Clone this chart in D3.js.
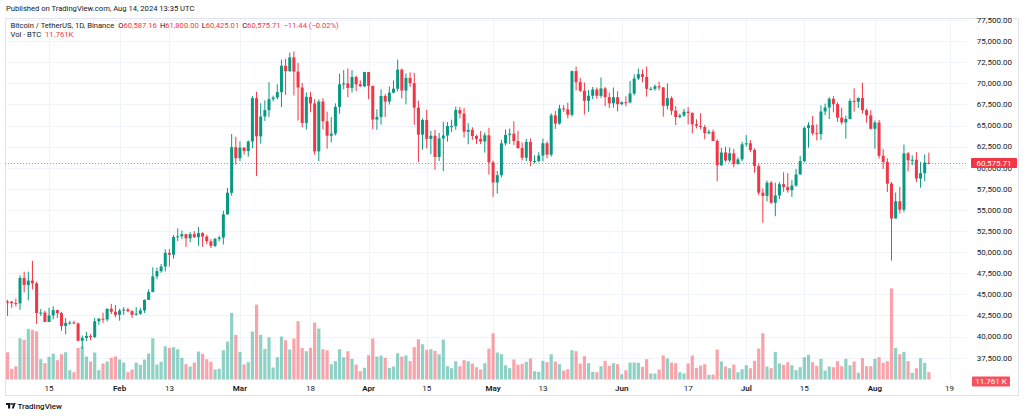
<!DOCTYPE html>
<html><head><meta charset="utf-8">
<script src="https://cdn.jsdelivr.net/npm/d3@7"></script>
<style>
body{margin:0;background:#fff}
svg{display:block}
text{font-family:Roboto,"Open Sans","DejaVu Sans",sans-serif}
</style>
</head><body>
<svg id="chart" width="1024" height="416"></svg>
<script>
// ---------- DATA (BTC/USDT daily, Binance) ----------
const firstDay = "2024-01-05";
const lastDay  = "2024-08-14";

const open = [
 44151,44145,43968,43929,46951,46110,46632,46314,42782,42847,41732,42511,43137,42776,41262,41618,41665,41545,39507,39845,40077,39934,41816,42120,42031,43300,42941,
 42580,43082,43200,43011,42582,42708,43098,44349,45288,47132,47751,48299,49917,49699,51795,51880,52124,51642,52137,51774,52258,51849,51288,50744,51568,51728,54476,57037,62432,
 61130,62387,61987,63113,68245,63724,66074,66823,68124,68313,68955,72078,71452,73072,71388,69499,65300,68393,67609,61937,67840,65501,63796,64037,67211,69880,69988,69455,70744,69892,69645,
 71333,69702,65709,66000,68500,67837,68896,69360,71620,69146,70631,70006,67116,63924,65661,63419,63793,61277,63470,63818,64940,64941,66837,66408,64276,64481,63755,63419,63113,63841,
 60636,58254,59123,62889,63891,64031,63161,62334,61187,63049,60792,60793,61448,62901,61552,66206,65235,67024,66915,66274,71446,70136,69122,67929,68526,69265,68518,69394,68366,67635,68354,
 67530,67760,67740,68798,70567,71082,70757,69342,69350,69648,69512,67332,68241,66756,66011,66191,66639,66490,65140,64960,64828,64096,64252,63180,60277,61806,60864,61706,60427,60986,
 62772,62900,62100,60197,57042,56662,58231,55857,56714,58051,57725,57339,57889,59204,60797,64724,65043,64087,63987,66660,67139,68165,67532,65936,65372,65777,67912,67813,68255,66819,66201,
 64620,65357,61415,60680,58116,53991,56034,55027,61710,60880,60945,58719,59354,60587.16
];
const high = [
 44357,44214,44496,47248,47695,47695,48969,46515,43257,43079,43400,43578,43198,42931,42195,41867,41870,41689,40129,40555,40300,42210,42200,42842,43305,43882,43745,
 43285,43488,43380,43119,43494,43399,44396,45614,48200,48170,48592,50334,50368,52043,52816,52572,52191,52377,52488,52985,52366,52065,51548,51698,51958,54910,57588,64000,63676,
 63114,62433,63231,68499,69000,67637,67985,70136,68541,69887,72800,72890,73650,73777,72419,70043,68904,68956,68124,68100,68240,66649,65999,67622,71150,71561,71769,71552,70913,70355,71366,
 71342,69708,66914,69291,68725,69629,70326,72797,71758,71172,71305,71227,67931,65840,66867,64365,64499,64117,65450,65419,65695,67233,67199,67075,65275,64792,63923,64360,64174,64734,
 60841,59625,63320,64529,64646,65500,64390,62999,63421,63469,61490,61850,63450,63118,66444,66752,67451,67400,67700,71515,71979,70623,70096,69220,69562,69508,70687,69560,68900,69500,69044,
 67865,68460,70288,71063,71735,71625,71997,69582,69860,70195,69563,69999,68449,67294,66402,66983,67188,66566,65738,66482,65066,64525,64523,63369,62350,62488,62390,62225,61224,63059,
 63861,63289,62292,60498,57546,58475,58426,58236,58296,59470,59359,58526,59850,61420,64900,65388,66128,65133,67386,67598,68366,68474,67750,67102,66175,68200,69399,68318,70079,66987,66810,
 65593,65659,62198,61117,58305,57059,57737,62745,61858,61464,61858,60680,61572,61800
];
const low = [
 42450,43397,43577,43175,45245,44300,45606,41500,42436,41720,41718,42050,42200,40683,40280,41395,41500,39431,38555,39484,39565,39825,41394,41620,41804,42683,42276,
 41884,42567,42880,42222,42500,42574,42788,44331,45242,46800,47557,47710,48300,49225,51314,51566,50625,51163,51677,50760,50625,50940,50500,50585,51279,50901,54450,56691,60364,
 60777,61561,61321,62300,59005,62848,65551,66000,67861,68094,67194,68620,71333,68555,65600,64780,64533,66566,61555,60775,64529,62260,63000,63825,66385,69280,68359,68903,69076,69601,69562,
 68110,64586,64493,65086,66011,67491,68824,69043,68210,67518,69567,65086,60660,62134,62274,61600,59768,60803,59600,63090,64237,64500,65864,63589,62783,63298,62824,62793,61795,59191,
 56552,56937,58848,62614,62822,62700,62250,60866,60769,60187,60492,60630,60750,61136,61320,64602,65107,66601,65857,66060,69162,68977,66312,66622,68128,68183,68250,67300,67075,67128,66670,
 67386,67257,67612,68567,70390,70119,68420,69168,69130,69172,66051,66905,66251,65056,65850,66024,65130,64060,64660,64559,63379,63943,63180,58402,60240,60712,60632,60063,60383,60767,
 62497,61850,59400,56771,53485,56018,55724,54260,56290,57157,57050,56542,57756,59194,60632,62373,63854,63238,63300,66222,65777,66559,65441,65111,63456,65722,66650,67066,66428,65323,64530,
 62248,61100,59850,57122,49000,53973,54558,54730,59575,60288,58286,57634,58417,60425.01
];
const close = [
 44145,43968,43929,46951,46110,46632,46314,42782,42847,41732,42511,43137,42776,41262,41618,41665,41545,39507,39845,40077,39934,41816,42120,42031,43300,42941,42580,
 43082,43200,43011,42582,42708,43098,44349,45288,47132,47751,48299,49917,49699,51795,51880,52124,51642,52137,51774,52258,51849,51288,50744,51568,51728,54476,57037,62432,61130,
 62387,61987,63113,68245,63724,66074,66823,68124,68313,68955,72078,71452,73072,71388,69499,65300,68393,67609,61937,67840,65501,63796,64037,67211,69880,69988,69455,70744,69892,69645,71333,
 69702,65709,66000,68500,67837,68896,69360,71620,69146,70631,70006,67116,63924,65661,63419,63793,61277,63470,63818,64940,64941,66837,66408,64276,64481,63755,63419,63113,63841,60636,
 58254,59123,62889,63891,64031,63161,62334,61187,63049,60792,60793,61448,62901,61552,66206,65235,67024,66915,66274,71446,70136,69122,67929,68526,69265,68518,69394,68366,67635,68354,67530,
 67760,67740,68798,70567,71082,70757,69342,69350,69648,69512,67332,68241,66756,66011,66191,66639,66490,65140,64960,64828,64096,64252,63180,60277,61806,60864,61706,60427,60986,62772,
 62900,62100,60197,57042,56662,58231,55857,56714,58051,57725,57339,57889,59204,60797,64724,65043,64087,63987,66660,67139,68165,67532,65936,65372,65777,67912,67813,68255,66819,66201,64620,
 65357,61415,60680,58116,53991,56034,55027,61710,60880,60945,58719,59354,60609,60575.71
];
// volume, thousands of BTC
const volumeK = [
 43.7,17.1,21.3,66.1,63.5,81.1,79.5,77.3,32.5,26.1,36.3,41.6,30.9,40.5,43.7,14.9,11.7,50.7,52.8,36.8,28.8,43.2,14.9,25.6,28.8,34.7,36.8,
 32.0,27.2,11.7,16.0,27.2,23.5,32.0,41.6,66.1,24.0,28.3,53.3,50.7,51.7,48.5,34.7,24.5,20.8,27.2,44.8,41.1,32.5,28.3,16.0,17.1,46.9,60.8,106.7,71.5,
 44.3,24.0,27.7,76.8,120.0,71.5,49.1,67.7,19.2,35.7,68.8,62.9,48.0,65.6,93.3,50.7,45.3,50.7,91.2,81.6,48.5,46.9,24.5,29.3,48.5,35.7,45.3,33.1,24.0,13.3,18.7,
 38.9,65.6,36.8,38.4,34.7,18.7,20.8,42.1,36.8,38.4,29.3,51.7,64.5,56.5,47.5,48.5,45.9,40.5,64.0,21.3,18.1,29.3,21.3,30.9,29.3,25.6,19.7,16.0,26.1,49.6,
 74.1,43.2,40.5,22.9,18.1,32.0,23.5,25.1,28.3,33.6,13.3,12.3,29.9,27.7,40.5,28.8,24.5,14.4,16.5,46.9,45.3,25.6,37.3,26.1,12.3,11.7,21.3,29.9,21.9,26.1,24.5,
 8.5,14.9,27.2,27.2,26.7,20.3,32.5,9.6,9.6,16.0,38.4,33.6,27.2,26.1,11.7,9.6,25.6,38.4,18.7,22.4,24.5,7.5,8.0,48.0,28.8,20.8,18.1,24.0,11.7,16.5,
 22.9,18.1,29.9,49.6,74.1,20.8,18.1,44.3,25.6,23.5,27.7,22.9,14.9,19.7,35.7,39.5,27.7,21.9,33.1,14.4,20.8,19.7,29.3,21.3,33.1,22.9,28.8,10.7,34.1,21.3,21.3,
 33.1,35.7,26.7,29.3,146.1,50.7,40.5,44.3,29.3,10.7,18.1,34.1,26.7,11.761
];
const priceTicks = [37500,40000,42500,45000,47500,50000,52500,55000,57500,60000,62500,65000,67500,70000,72500,75000,77500];
const timeTicks = [
 ["2024-01-15","15"],["2024-02-01","Feb"],["2024-02-13","13"],["2024-03-01","Mar"],["2024-03-18","18"],
 ["2024-04-01","Apr"],["2024-04-15","15"],["2024-05-01","May"],["2024-05-13","13"],["2024-06-01","Jun"],
 ["2024-06-17","17"],["2024-07-01","Jul"],["2024-07-15","15"],["2024-08-01","Aug"],["2024-08-19","19"]
];
const lastPrice = 60575.71;
const lastVolumeLabel = "11.761 K";

// ---------- CHART ----------
const UP = "#089981", DOWN = "#f23645";
const UPV = "rgba(8,153,129,0.45)", DOWNV = "rgba(242,54,69,0.45)";
const TXT = "#131722";
const svg = d3.select("#chart");
const pane = {l:5, r:967, t:18, b:380};

const days = d3.utcDay.range(new Date(firstDay), d3.utcDay.offset(new Date(lastDay), 1));
const data = days.map((d,i)=>({d, o:open[i], h:high[i], l:low[i], c:close[i], v:volumeK[i]}));

const x = d3.scaleUtc().domain([new Date("2024-01-01"), new Date("2024-08-19")]).range([-9.05, 949.6]);
const y = d3.scaleLinear().domain([37500, 77500]).range([357.7, 20]);
const vy = d3.scaleLinear().domain([0, 146.1]).range([379.5, 288.3]);

// frame
svg.append("rect").attr("x",5.5).attr("y",18.5).attr("width",1013).attr("height",377)
  .attr("fill","none").attr("stroke","#e0e3eb");

// clip
svg.append("clipPath").attr("id","pc").append("rect")
  .attr("x",pane.l).attr("y",pane.t+1).attr("width",pane.r-pane.l).attr("height",pane.b-pane.t-1);
const g = svg.append("g").attr("clip-path","url(#pc)");

// grid
g.selectAll("line.hg").data(priceTicks).join("line")
  .attr("x1",pane.l).attr("x2",pane.r)
  .attr("y1",d=>Math.round(y(d))+0.5).attr("y2",d=>Math.round(y(d))+0.5)
  .attr("stroke","#f0f3fa");
g.selectAll("line.vg").data(timeTicks).join("line")
  .attr("y1",pane.t).attr("y2",pane.b)
  .attr("x1",d=>Math.round(x(new Date(d[0])))+0.5).attr("x2",d=>Math.round(x(new Date(d[0])))+0.5)
  .attr("stroke","#f0f3fa");

// volume
g.selectAll("rect.vol").data(data).join("rect")
  .attr("x",d=>x(d.d)-1.6).attr("width",3.2)
  .attr("y",d=>vy(d.v)).attr("height",d=>vy(0)-vy(d.v))
  .attr("fill",d=>d.c>=d.o?UPV:DOWNV);

// price line
g.append("line").attr("x1",pane.l).attr("x2",pane.r+6)
  .attr("y1",Math.round(y(lastPrice))+0.5).attr("y2",Math.round(y(lastPrice))+0.5)
  .attr("stroke",DOWN).attr("stroke-opacity",0.7).attr("stroke-dasharray","1,2");

// candles
const cg = g.append("g");
cg.selectAll("line.wick").data(data).join("line")
  .attr("x1",d=>x(d.d)).attr("x2",d=>x(d.d))
  .attr("y1",d=>y(d.h)).attr("y2",d=>y(d.l))
  .attr("stroke",d=>d.c>=d.o?UP:DOWN).attr("stroke-width",1);
cg.selectAll("rect.body").data(data).join("rect")
  .attr("x",d=>x(d.d)-1.5).attr("width",3)
  .attr("y",d=>y(Math.max(d.o,d.c)))
  .attr("height",d=>Math.max(1,Math.abs(y(d.o)-y(d.c))))
  .attr("fill",d=>d.c>=d.o?UP:DOWN);

// price axis labels
const fmt = d3.format(",.2f");
svg.selectAll("text.py").data(priceTicks).join("text")
  .attr("x",1012).attr("y",d=>y(d)).attr("dy","0.35em")
  .attr("text-anchor","end").attr("font-size",8).attr("fill",TXT)
  .text(d=>fmt(d));

// last price label
const ly = y(lastPrice);
svg.append("rect").attr("x",971).attr("y",ly-5).attr("width",46).attr("height",10).attr("rx",1).attr("fill",DOWN);
svg.append("text").attr("x",994).attr("y",ly).attr("dy","0.35em").attr("text-anchor","middle")
  .attr("font-size",8).attr("fill","#fff").text(fmt(lastPrice));

// last volume label
const vly = 381.5;
svg.append("rect").attr("x",972).attr("y",vly-5).attr("width",38).attr("height",10).attr("rx",1).attr("fill","#f5515e");
svg.append("text").attr("x",991).attr("y",vly).attr("dy","0.35em").attr("text-anchor","middle")
  .attr("font-size",8).attr("fill","#fff").text(lastVolumeLabel);

// time axis labels
svg.selectAll("text.tx").data(timeTicks).join("text")
  .attr("x",d=>x(new Date(d[0]))).attr("y",388).attr("dy","0.35em")
  .attr("text-anchor","middle").attr("font-size",8).attr("fill",TXT)
  .attr("font-weight",d=>/^\d/.test(d[1])?400:600)
  .text(d=>d[1]);

// header
svg.append("text").attr("x",6).attr("y",8).attr("dy","0.35em").attr("font-size",7.6).attr("fill",TXT)
  .text("Published on TradingView.com, Aug 14, 2024 13:35 UTC");

const leg = svg.append("text").attr("x",10.5).attr("y",25).attr("dy","0.35em").attr("font-size",7.6).attr("fill",TXT);
leg.append("tspan").text("Bitcoin / TetherUS, 1D, Binance");
const ohlc = [["O","60,587.16"],["H","61,800.00"],["L","60,425.01"],["C","60,575.71"]];
ohlc.forEach((p,i)=>{
  leg.append("tspan").attr("dx", i===0?4:3).text(p[0]);
  leg.append("tspan").attr("fill",DOWN).text(p[1]);
});
leg.append("tspan").attr("dx",3).attr("fill",DOWN).text("\u221211.44 (\u22120.02%)");

const leg2 = svg.append("text").attr("x",10.5).attr("y",34.5).attr("dy","0.35em").attr("font-size",7.6).attr("fill",TXT);
leg2.append("tspan").text("Vol \u00b7 BTC");
leg2.append("tspan").attr("dx",4).attr("fill",DOWN).text("11.761K");

// logo
const lg = svg.append("g").attr("fill",TXT);
lg.append("rect").attr("x",6).attr("y",403).attr("width",4.5).attr("height",2);
lg.append("rect").attr("x",8).attr("y",403).attr("width",2.2).attr("height",5.5);
lg.append("circle").attr("cx",12).attr("cy",404).attr("r",1);
lg.append("path").attr("d","M13.6,403 L15.6,403 L13.8,408.5 L11.8,408.5 Z");
svg.append("text").attr("x",17.5).attr("y",406).attr("dy","0.35em").attr("font-size",8).attr("fill",TXT)
  .attr("font-weight",500).text("TradingView");
</script>
</body></html>
